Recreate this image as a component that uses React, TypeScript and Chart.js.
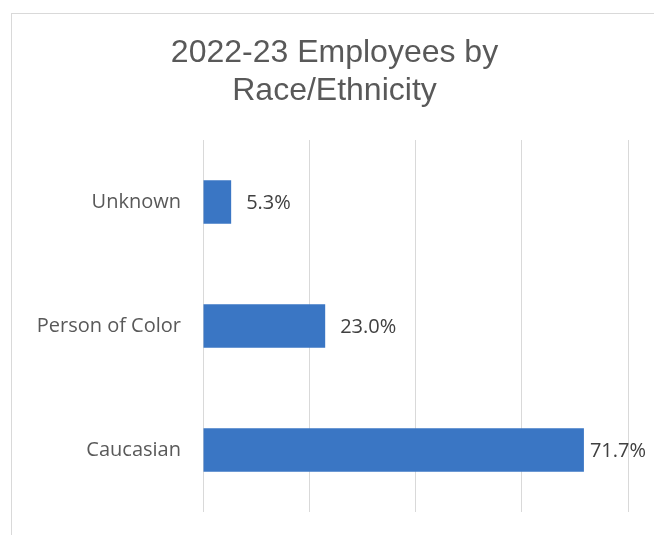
import React, { useEffect, useRef } from "react";
import { Chart, registerables } from "chart.js";

Chart.register(...registerables);

const categories = ["Unknown", "Person of Color", "Caucasian"];
const values = [0.053, 0.23, 0.717];
const valueLabels = ["5.3%", "23.0%", "71.7%"];
const titleLines = ["2022-23 Employees by", "Race/Ethnicity"];

const LABEL_FONT = "'Open Sans', sans-serif";

const dataLabelPlugin = {
  id: "dataLabels",
  afterDatasetsDraw(chart: any) {
    const ctx = chart.ctx;
    const meta = chart.getDatasetMeta(0);
    ctx.save();
    ctx.fillStyle = "#404040";
    ctx.font = `20px ${LABEL_FONT}`;
    ctx.textAlign = "left";
    ctx.textBaseline = "middle";
    meta.data.forEach((bar: any, i: number) => {
      const w = ctx.measureText(valueLabels[i]).width;
      const x = Math.min(bar.x + 15, chart.width - 8 - w);
      ctx.fillText(valueLabels[i], x, bar.y + 1);
    });
    ctx.restore();
  },
};

const titlePlugin = {
  id: "customTitle",
  afterDraw(chart: any) {
    const ctx = chart.ctx;
    ctx.save();
    ctx.fillStyle = "#595959";
    ctx.font = "32px 'Liberation Sans', Arial, sans-serif";
    ctx.textAlign = "center";
    ctx.textBaseline = "middle";
    titleLines.forEach((line, i) => {
      ctx.fillText(line, 334.5, 53 + i * 38);
    });
    ctx.restore();
  },
};

export default function App() {
  const ref = useRef<HTMLCanvasElement | null>(null);
  useEffect(() => {
    if (!ref.current) return;
    const chart = new Chart(ref.current, {
      type: "bar",
      data: {
        labels: categories,
        datasets: [
          {
            data: values,
            backgroundColor: "#3a76c4",
            borderWidth: 0,
            categoryPercentage: 1,
            barPercentage: 0.35,
          },
        ],
      },
      options: {
        indexAxis: "y",
        animation: false,
        responsive: false,
        maintainAspectRatio: false,
        layout: { padding: { left: 0, right: 26, top: 140, bottom: 23 } },
        plugins: {
          legend: { display: false },
          tooltip: { enabled: false },
          title: { display: false },
        },
        scales: {
          x: {
            min: 0,
            max: 0.8,
            ticks: { display: false, stepSize: 0.2 },
            grid: { color: "#d9d9d9", lineWidth: 1, drawTicks: false },
            border: { display: false },
            afterFit: (s: any) => {
              s.height = 0;
              s.paddingLeft = 0;
              s.paddingRight = 0;
            },
          },
          y: {
            grid: { display: false, drawTicks: false },
            border: { display: false },
            ticks: {
              color: "#595959",
              font: { family: LABEL_FONT, size: 20 },
              padding: 22,
            },
            afterFit: (s: any) => {
              s.width = 203;
              s.paddingTop = 0;
              s.paddingBottom = 0;
            },
          },
        },
      },
      plugins: [dataLabelPlugin, titlePlugin],
    });
    return () => chart.destroy();
  }, []);

  return (
    <div style={{ position: "fixed", left: 0, top: 0, width: 654, height: 535, overflow: "hidden", background: "#fff" }}>
      <div
        style={{
          position: "absolute",
          left: 11,
          top: 13,
          width: 700,
          height: 600,
          border: "1px solid #d9d9d9",
        }}
      />
      <canvas ref={ref} width={654} height={535} style={{ position: "absolute", left: 0, top: 0 }} />
    </div>
  );
}
